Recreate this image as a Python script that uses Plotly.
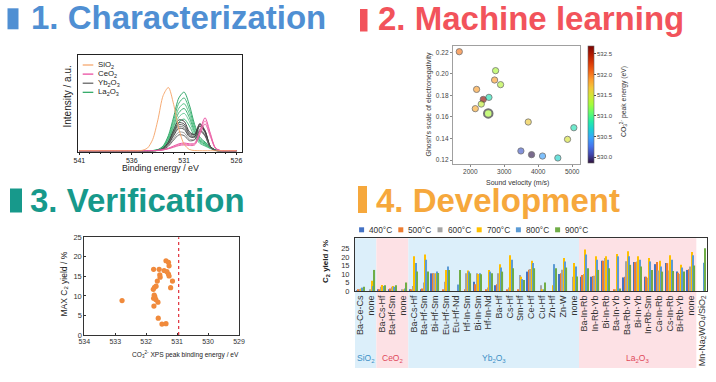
import plotly.graph_objects as go

W, H = 716, 382
FONT = "Liberation Sans, Arial, Helvetica, sans-serif"


def X(px):
    return px / W


def Y(py):
    return 1 - py / H


# ====================== DATA ======================
# Panel 1 - XPS O1s spectra (normalised intensity)
xps_energy = [541, 538, 536, 535.5, 535, 534.5, 534, 533.5, 533, 532.5, 532, 531.5,
              531, 530.5, 530, 529.5, 529, 528.5, 528, 527.5, 527, 526]
sio2_spectra = [
    [0.010, 0.010, 0.010, 0.010, 0.014, 0.037, 0.126, 0.330, 0.580, 0.664, 0.490, 0.235,
     0.078, 0.023, 0.012, 0.010, 0.010, 0.010, 0.010, 0.010, 0.010, 0.010],
]
ceo2_spectra = [
    [0.010, 0.010, 0.010, 0.010, 0.010, 0.010, 0.011, 0.014, 0.021, 0.036, 0.059, 0.081,
     0.090, 0.082, 0.087, 0.214, 0.351, 0.192, 0.039, 0.011, 0.010, 0.010],
    [0.010, 0.010, 0.010, 0.010, 0.010, 0.010, 0.011, 0.013, 0.019, 0.033, 0.052, 0.072,
     0.080, 0.073, 0.078, 0.195, 0.320, 0.175, 0.036, 0.011, 0.010, 0.010],
    [0.010, 0.010, 0.010, 0.010, 0.010, 0.010, 0.011, 0.013, 0.018, 0.030, 0.046, 0.063,
     0.070, 0.064, 0.069, 0.175, 0.288, 0.159, 0.034, 0.011, 0.010, 0.010],
]
yb2o3_spectra = [
    [0.010, 0.010, 0.010, 0.010, 0.010, 0.010, 0.011, 0.014, 0.035, 0.102, 0.224, 0.328,
     0.315, 0.207, 0.179, 0.284, 0.213, 0.055, 0.013, 0.010, 0.010, 0.010],
    [0.010, 0.010, 0.010, 0.010, 0.010, 0.010, 0.011, 0.014, 0.033, 0.093, 0.204, 0.300,
     0.287, 0.191, 0.176, 0.292, 0.220, 0.057, 0.013, 0.010, 0.010, 0.010],
    [0.010, 0.010, 0.010, 0.010, 0.010, 0.010, 0.010, 0.014, 0.032, 0.088, 0.191, 0.280,
     0.268, 0.178, 0.160, 0.263, 0.197, 0.052, 0.013, 0.010, 0.010, 0.010],
    [0.010, 0.010, 0.010, 0.010, 0.010, 0.010, 0.010, 0.014, 0.030, 0.082, 0.178, 0.261,
     0.250, 0.166, 0.145, 0.233, 0.175, 0.047, 0.012, 0.010, 0.010, 0.010],
    [0.010, 0.010, 0.010, 0.010, 0.010, 0.010, 0.010, 0.013, 0.029, 0.077, 0.165, 0.242,
     0.232, 0.156, 0.155, 0.269, 0.204, 0.054, 0.013, 0.010, 0.010, 0.010],
    [0.010, 0.010, 0.010, 0.010, 0.010, 0.010, 0.010, 0.013, 0.025, 0.066, 0.139, 0.203,
     0.195, 0.131, 0.125, 0.210, 0.160, 0.044, 0.012, 0.010, 0.010, 0.010],
    [0.010, 0.010, 0.010, 0.010, 0.010, 0.010, 0.010, 0.012, 0.023, 0.057, 0.120, 0.174,
     0.167, 0.114, 0.122, 0.218, 0.167, 0.045, 0.012, 0.010, 0.010, 0.010],
]
la2o3_spectra = [
    [0.010, 0.010, 0.010, 0.010, 0.010, 0.010, 0.012, 0.022, 0.060, 0.167, 0.358, 0.556,
     0.616, 0.485, 0.283, 0.151, 0.100, 0.053, 0.019, 0.011, 0.010, 0.010],
    [0.010, 0.010, 0.010, 0.010, 0.010, 0.010, 0.012, 0.020, 0.055, 0.152, 0.324, 0.502,
     0.556, 0.438, 0.256, 0.137, 0.091, 0.049, 0.018, 0.011, 0.010, 0.010],
    [0.010, 0.010, 0.010, 0.010, 0.010, 0.010, 0.011, 0.019, 0.050, 0.136, 0.290, 0.449,
     0.497, 0.392, 0.229, 0.123, 0.082, 0.044, 0.017, 0.011, 0.010, 0.010],
    [0.010, 0.010, 0.010, 0.010, 0.010, 0.010, 0.011, 0.018, 0.046, 0.124, 0.261, 0.404,
     0.447, 0.353, 0.207, 0.112, 0.075, 0.041, 0.017, 0.011, 0.010, 0.010],
    [0.010, 0.010, 0.010, 0.010, 0.010, 0.010, 0.011, 0.017, 0.042, 0.111, 0.233, 0.359,
     0.397, 0.314, 0.184, 0.100, 0.067, 0.037, 0.016, 0.011, 0.010, 0.010],
    [0.010, 0.010, 0.010, 0.010, 0.010, 0.010, 0.011, 0.016, 0.037, 0.095, 0.198, 0.305,
     0.338, 0.267, 0.158, 0.086, 0.059, 0.033, 0.015, 0.011, 0.010, 0.010],
]
xps_ticks = [541, 536, 531, 526]

# Panel 2 - machine learning scatter
sound_velocity = [1676, 2745, 2716, 2892, 2186, 2382, 2549, 2324, 2147, 2529,
                  3706, 5049, 4863, 3490, 3804, 4127, 4578]
ghosh_en = [0.2206, 0.2030, 0.1943, 0.1900, 0.1856, 0.1763, 0.1782, 0.1720, 0.1677, 0.1633,
            0.1553, 0.1500, 0.1392, 0.1284, 0.1250, 0.1237, 0.1219]
co3_peak_energy = [532.0, 531.3, 531.85, 531.35, 531.85, 532.6, 530.8, 531.4, 531.8, 531.3,
                   531.65, 530.8, 531.5, 530.15, 529.9, 530.45, 530.7]
highlight_index = 9

# Panel 3 - verification scatter
xps_peak_be = [532.78, 531.76, 531.58, 531.36, 531.28, 531.26, 531.42, 531.33, 531.28, 531.26,
               531.56, 531.55, 531.64, 531.15, 531.21, 531.68, 531.73, 531.77, 531.72, 531.76,
               531.69, 531.62, 531.75, 531.61, 531.49, 531.36, 531.74]
max_c2_yield = [8.8, 16.8, 16.8, 19.0, 18.6, 17.7, 16.5, 16.2, 15.6, 15.1,
                15.4, 14.8, 13.8, 13.8, 12.1, 12.5, 12.2, 11.7, 9.8, 9.4,
                9.1, 8.4, 7.4, 4.3, 2.8, 2.9, 10.2]
threshold_be = 530.95

# Panel 4 - development bar chart
catalysts = ["Ba-Ce-Cs", "none",
             "Ba-Cs-Hf", "Ba-Hf-Sm", "none",
             "Ba-Cs-Hf", "Ba-Hf-Sm", "Bi-Hf-Sm", "Eu-Hf-Sm", "Eu-Hf-Nd", "Hf-In-Sm", "Bi-In-Sm",
             "Hf-In-Nd", "Ba-Hf", "Cs-Hf", "Sm-Hf", "Ce-Hf", "Cu-Hf", "Zn-Hf", "Zn-W", "none",
             "Ba-In-Rb", "In-Rb-Yb", "Bi-In-Rb", "Ba-In-Yb", "Ba-Rb-Yb", "Bi-In-Yb", "In-Rb-Sm",
             "Ca-In-Rb", "Cs-In-Rb", "Bi-Rb-Yb", "none",
             "Mn-Na<sub>2</sub>WO<sub>4</sub>/SiO<sub>2</sub>"]
support_names = ["SiO<sub>2</sub>", "CeO<sub>2</sub>", "Yb<sub>2</sub>O<sub>3</sub>", "La<sub>2</sub>O<sub>3</sub>"]
support_sizes = [2, 3, 16, 11]
temperatures = ["400°C", "500°C", "600°C", "700°C", "800°C", "900°C"]
yield_400 = [0.3, 0, 0.5, 0.5, 0, 0.5, 1.0, 10.4, 0, 0, 0, 5.4, 0, 3.4, 0, 0, 11.4, 0, 0, 10.0,
             0, 8.4, 8.4, 17.8, 0, 8.0, 17.0, 8.4, 15.8, 16.4, 11.4, 12.4, 0]
yield_500 = [0.8, 0, 1.0, 1.5, 0, 1.0, 1.5, 10.4, 0.5, 0, 1.0, 4.0, 0.5, 4.0, 0.5, 0.5, 12.5, 0, 0,
             10.4, 0, 9.4, 8.8, 17.8, 0.5, 8.4, 17.0, 8.4, 17.0, 16.4, 10.8, 12.8, 0]
yield_600 = [1.2, 1.0, 2.5, 2.5, 0.5, 3.0, 5.0, 10.4, 5.4, 0, 10.4, 10.4, 2.0, 10.4, 2.0, 9.4, 13.0,
             3.4, 0, 12.5, 8.4, 10.0, 9.0, 19.4, 1.0, 17.5, 17.4, 7.8, 12.0, 12.0, 10.0, 14.4, 0]
yield_700 = [1.5, 6.0, 3.5, 3.0, 1.0, 20.4, 21.4, 10.4, 12.4, 0, 12.0, 10.0, 12.4, 15.8, 21.0, 8.4,
             17.8, 0.5, 3.4, 19.4, 16.4, 24.4, 20.4, 20.4, 21.8, 23.4, 20.4, 19.4, 17.8, 21.0,
             15.4, 23.0, 0]
yield_800 = [2.0, 3.0, 3.0, 2.5, 1.5, 16.4, 18.4, 11.4, 14.4, 3.8, 11.4, 10.4, 11.4, 13.8, 18.4,
             7.0, 16.4, 0.5, 15.8, 17.4, 14.4, 21.4, 18.4, 18.4, 20.4, 20.4, 18.4, 17.4, 14.4,
             18.4, 13.8, 21.0, 16.6]
yield_900 = [2.5, 12.4, 3.4, 3.4, 5.0, 11.4, 11.4, 10.6, 12.4, 12.4, 10.4, 9.8, 10.4, 11.4, 13.4,
             6.4, 13.4, 5.0, 13.4, 13.8, 8.5, 13.4, 12.4, 13.4, 1.4, 15.4, 14.4, 12.4, 11.4, 11.8,
             11.4, 15.0, 25.2]
yields = [yield_400, yield_500, yield_600, yield_700, yield_800, yield_900]

# ====================== STYLES ======================
la_colors = ["#1e9e5a", "#33b06c", "#48bd7e", "#2aa763", "#5cc68f", "#3db574"]
yb_colors = ["#2e2e2e", "#474747", "#5e5e5e", "#777777", "#3a3a3a", "#8f8f8f", "#525252"]
ce_colors = ["#e8409a", "#f070ad", "#e65aa2"]
si_colors = ["#f5a264"]
temp_colors = ["#4472c4", "#ed7d31", "#a5a5a5", "#ffc000", "#5b9bd5", "#70ad47"]
band_colors = ["#dcefFA", "#fde1e5", "#dcefFA", "#fde1e5"]
support_text_colors = ["#3d8fc6", "#e0495a", "#3d8fc6", "#e0495a"]

fig = go.Figure()

# ---------- Panel 1 ----------
for group, colors in [(la2o3_spectra, la_colors), (yb2o3_spectra, yb_colors),
                      (ceo2_spectra, ce_colors), (sio2_spectra, si_colors)]:
    for i, spec in enumerate(group):
        fig.add_trace(go.Scatter(
            x=xps_energy, y=spec, mode="lines",
            line=dict(color=colors[i % len(colors)], width=0.9, shape="spline", smoothing=0.8),
            xaxis="x", yaxis="y", hoverinfo="skip", showlegend=False))

# ---------- Panel 2 ----------
n2 = len(sound_velocity)
fig.add_trace(go.Scatter(
    x=sound_velocity, y=ghosh_en, mode="markers", xaxis="x2", yaxis="y2",
    showlegend=False, opacity=0.92,
    marker=dict(
        color=co3_peak_energy, colorscale="Turbo", cmin=529.86, cmax=532.68,
        size=[8.5 if i == highlight_index else 6.3 for i in range(n2)],
        line=dict(color="#2a2a2a", width=[2.0 if i == highlight_index else 0.8 for i in range(n2)]),
        showscale=True,
        colorbar=dict(
            x=X(588), xanchor="left", xpad=0, y=Y(104.7), yanchor="middle", ypad=0,
            len=117.3 / H, lenmode="fraction", thickness=6, thicknessmode="pixels",
            tick0=530, dtick=0.5, tickformat=".1f", ticks="outside", ticklen=2,
            tickfont=dict(size=6, color="#444", family=FONT),
            outlinewidth=0.6, outlinecolor="#666"),
    )))

# ---------- Panel 3 ----------
fig.add_trace(go.Scatter(
    x=xps_peak_be, y=max_c2_yield, mode="markers", xaxis="x3", yaxis="y3",
    showlegend=False, marker=dict(color="#f08a3c", size=5.2)))

# ---------- Panel 4 ----------
xi = list(range(len(catalysts)))
for j, t in enumerate(temperatures):
    fig.add_trace(go.Bar(
        x=xi, y=yields[j], name=t, marker=dict(color=temp_colors[j], line=dict(width=0)),
        xaxis="x4", yaxis="y4", showlegend=False))

shapes = []
annotations = []

# section titles
titles = [
    ("1. Characterization", "#4f8fd3", (7.5, 18.5, 8.3, 29.3), 29.0, 18.0),
    ("2. Machine learning", "#f2535b", (360.0, 367.5, 9.0, 31.5), 375.5, 18.3),
    ("3. Verification", "#17998b", (10.0, 22.0, 188.5, 212.5), 27.5, 200.0),
    ("4. Development", "#f6a83c", (358.0, 367.0, 186.0, 213.0), 373.5, 200.8),
]
for text, col, (bx0, bx1, by0, by1), tx, ty in titles:
    shapes.append(dict(type="rect", xref="paper", yref="paper", x0=X(bx0), x1=X(bx1),
                       y0=Y(by1), y1=Y(by0), fillcolor=col, line=dict(width=0)))
    annotations.append(dict(text=f"<b>{text}</b>", xref="paper", yref="paper", x=X(tx), y=Y(ty),
                            xanchor="left", yanchor="middle", showarrow=False,
                            font=dict(size=33, color=col, family=FONT)))

# panel 1 legend (manual, compact)
leg1 = [("SiO<sub>2</sub>", "#f5a264"), ("CeO<sub>2</sub>", "#e8409a"),
        ("Yb<sub>2</sub>O<sub>3</sub>", "#5a5a5a"), ("La<sub>2</sub>O<sub>3</sub>", "#22a35c")]
for k, (lab, col) in enumerate(leg1):
    yy = 65 + k * 9.1
    shapes.append(dict(type="line", xref="paper", yref="paper", x0=X(82.7), x1=X(93.3),
                       y0=Y(yy), y1=Y(yy), line=dict(color=col, width=1.2)))
    annotations.append(dict(text=lab, xref="paper", yref="paper", x=X(95.5), y=Y(yy),
                            xanchor="left", yanchor="middle", showarrow=False,
                            font=dict(size=7.8, color="#222", family=FONT)))


# axis titles
def add_title(text, px, py, size, angle=0, color="#222", bold=False):
    annotations.append(dict(text=(f"<b>{text}</b>" if bold else text), xref="paper", yref="paper",
                            x=X(px), y=Y(py), xanchor="center", yanchor="middle",
                            showarrow=False, textangle=angle,
                            font=dict(size=size, color=color, family=FONT)))


add_title("Binding energy / eV", 160, 168, 8.8)
add_title("Intensity / a.u.", 66.5, 97, 10, angle=-90)
add_title("Sound velocity (m/s)", 517, 183, 7, color="#333")
add_title("Ghosh's scale of electronegativity", 428.5, 104, 7, angle=-90, color="#333")
add_title("CO<sub>3</sub><sup>2-</sup> peak energy (eV)", 623, 102, 6.8, angle=-90, color="#333")
add_title("CO<sub>3</sub><sup>2-</sup> XPS peak binding energy / eV", 185, 354, 6.6)
add_title("MAX C<sub>2</sub> yield / %", 63.5, 284, 8.5, angle=-90)
add_title("C<sub>2</sub> yield / %", 326, 262, 8, angle=-90, bold=True)

# threshold line
shapes.append(dict(type="line", xref="x3", yref="y3 domain", x0=threshold_be, x1=threshold_be,
                   y0=0, y1=1, line=dict(color="#e0303a", width=1.2, dash="dot")))

# support bands & labels in panel 4
start = 0
for name, size, bcol, tcol in zip(support_names, support_sizes, band_colors, support_text_colors):
    shapes.append(dict(type="rect", xref="x4", yref="paper", x0=start - 0.5, x1=start + size - 0.5,
                       y0=Y(368), y1=Y(238.3), fillcolor=bcol, line=dict(width=0), layer="below"))
    annotations.append(dict(text=name, xref="x4", yref="paper", x=start + (size - 1) / 2, y=Y(358),
                            xanchor="center", yanchor="middle", showarrow=False,
                            font=dict(size=8.5, color=tcol, family=FONT)))
    start += size

# panel 4 legend (manual)
for j, (t, col) in enumerate(zip(temperatures, temp_colors)):
    sx = 359.1 + j * 39.2
    shapes.append(dict(type="rect", xref="paper", yref="paper", x0=X(sx), x1=X(sx + 5),
                       y0=Y(232.3), y1=Y(227.3), fillcolor=col, line=dict(width=0)))
    annotations.append(dict(text=t, xref="paper", yref="paper", x=X(sx + 8), y=Y(229.8),
                            xanchor="left", yanchor="middle", showarrow=False,
                            font=dict(size=8.3, color="#333", family=FONT)))

axis_common = dict(showgrid=False, zeroline=False, automargin=False)

fig.update_layout(
    width=W, height=H, margin=dict(l=0, r=0, t=0, b=0), autosize=False,
    template="none", paper_bgcolor="white", plot_bgcolor="rgba(0,0,0,0)",
    font=dict(family=FONT, color="#222"),
    showlegend=False, barmode="group", bargap=0.22, bargroupgap=0.1,
    xaxis=dict(domain=[X(78.3), X(241.7)], anchor="y", range=[541.1, 525.5],
               tickvals=xps_ticks, ticks="outside", ticklen=2, tickwidth=0.8, tickcolor="#222",
               minor=dict(dtick=1, ticks="outside", ticklen=1.5, tickcolor="#222", tickwidth=0.7),
               showline=True, linecolor="#222", linewidth=0.8, mirror=True,
               tickfont=dict(size=7, color="#222"), **axis_common),
    yaxis=dict(domain=[Y(151.7), Y(55)], anchor="x", range=[0, 1], showticklabels=False,
               ticks="", showline=True, linecolor="#222", linewidth=0.8, mirror=True,
               **axis_common),
    xaxis2=dict(domain=[X(453.3), X(580)], anchor="y2", range=[1500, 5230],
                tickvals=[2000, 3000, 4000, 5000], ticks="outside", ticklen=1.5, tickcolor="#888",
                showline=True, linecolor="#a0a0a0", linewidth=1, mirror=True,
                tickfont=dict(size=6.5, color="#444"), **axis_common),
    yaxis2=dict(domain=[Y(164), Y(46)], anchor="x2", range=[0.1163, 0.2259],
                tickvals=[0.12, 0.14, 0.16, 0.18, 0.20, 0.22], tickformat=".2f",
                ticks="outside", ticklen=2.5, tickcolor="#888",
                showline=True, linecolor="#a0a0a0", linewidth=1, mirror=True,
                tickfont=dict(size=6.5, color="#444"), **axis_common),
    xaxis3=dict(domain=[X(84.3), X(239)], anchor="y3", range=[534, 529], dtick=1,
                ticks="inside", ticklen=2, tickcolor="#333",
                showline=True, linecolor="#333", linewidth=1, mirror=True,
                tickfont=dict(size=7, color="#333"), **axis_common),
    yaxis3=dict(domain=[Y(335), Y(237.3)], anchor="x3", range=[0, 25], dtick=5,
                ticks="inside", ticklen=2, tickcolor="#333",
                showline=True, linecolor="#333", linewidth=1, mirror=True,
                tickfont=dict(size=7.5, color="#333"), **axis_common),
    xaxis4=dict(domain=[X(355), X(707)], anchor="y4", range=[-0.5, len(catalysts) - 0.5],
                tickmode="array", tickvals=xi, ticktext=catalysts, tickangle=-90,
                ticks="", showline=True, linecolor="#333", linewidth=1, mirror=True,
                tickfont=dict(size=9, color="#333"), **axis_common),
    yaxis4=dict(domain=[Y(291), Y(238.3)], anchor="x4", range=[0, 31],
                tickvals=[0, 5, 10, 15, 20, 25], ticks="outside", ticklen=3,
                tickcolor="rgba(0,0,0,0)",
                showline=True, linecolor="#333", linewidth=1, mirror=True,
                tickfont=dict(size=7.5, color="#333"), **axis_common),
    shapes=shapes, annotations=annotations,
)

fig.write_html("out.html", config={"displayModeBar": False},
               post_script="document.body.style.margin='0';document.body.style.overflow='hidden';")
